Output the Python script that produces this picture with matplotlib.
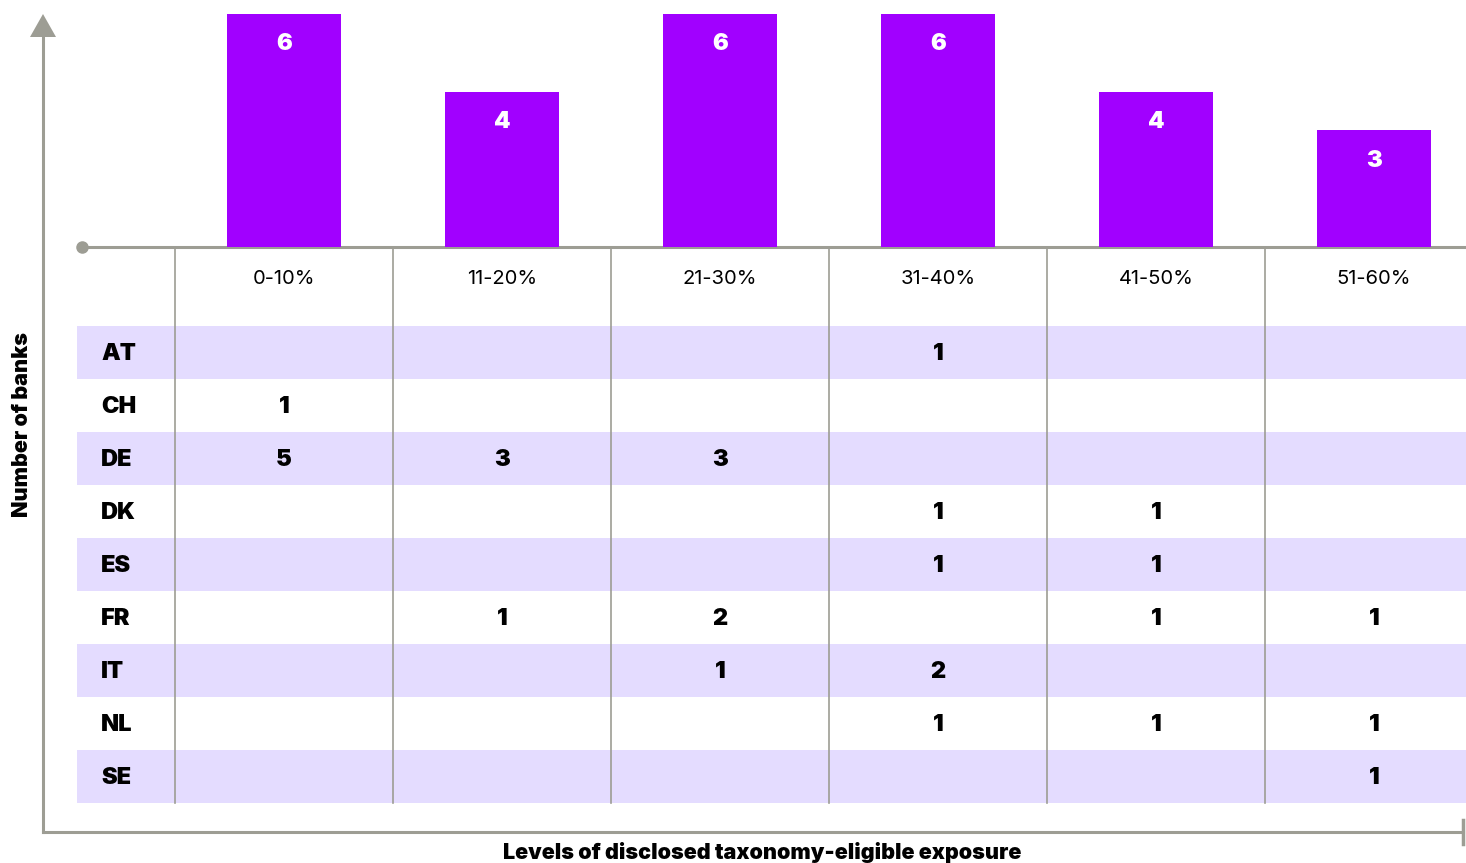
import matplotlib.pyplot as plt
from matplotlib.patches import Rectangle, Polygon

plt.rcParams['font.family'] = ['Inter', 'DejaVu Sans']

# bins of disclosed taxonomy-eligible exposure
levels = ['0-10%', '11-20%', '21-30%', '31-40%', '41-50%', '51-60%']
totals = [6, 4, 6, 6, 4, 3]

countries = ['AT', 'CH', 'DE', 'DK', 'ES', 'FR', 'IT', 'NL', 'SE']
# banks per country and level (0 = empty cell)
counts = [
    [0, 0, 0, 1, 0, 0],
    [1, 0, 0, 0, 0, 0],
    [5, 3, 3, 0, 0, 0],
    [0, 0, 0, 1, 1, 0],
    [0, 0, 0, 1, 1, 0],
    [0, 1, 2, 0, 1, 1],
    [0, 0, 1, 2, 0, 0],
    [0, 0, 0, 1, 1, 1],
    [0, 0, 0, 0, 0, 1],
]

PURPLE = '#a100ff'
LAVENDER = '#e4dcff'
GREY = '#9d9d94'

W, H = 1466, 863
fig = plt.figure(figsize=(W / 100, H / 100), dpi=100)

# pixel-space canvas for the table and the axis arrows
canvas = fig.add_axes([0, 0, 1, 1])
canvas.set_xlim(0, W)
canvas.set_ylim(H, 0)
canvas.axis('off')

col_left = 175
col_w = 218
row_top = 326
row_h = 53

# shaded rows
for r, c in enumerate(countries):
    y0 = row_top + r * row_h
    if r % 2 == 0:
        canvas.add_patch(Rectangle((77, y0), W - 77, row_h, color=LAVENDER, lw=0, zorder=1))
    canvas.text(101, y0 + row_h / 2 + 1, c, ha='left', va='center',
                fontsize=17, fontweight='black', color='black', zorder=3)
    for i, v in enumerate(counts[r]):
        if v:
            canvas.text(col_left + col_w * (i + 0.5), y0 + row_h / 2 + 1, str(v),
                        ha='center', va='center', fontsize=17, fontweight='black', zorder=3)

table_bottom = row_top + len(countries) * row_h

# column separators and header labels
for i, lab in enumerate(levels):
    x = col_left + col_w * i
    canvas.plot([x, x], [247, table_bottom], color=GREY, lw=1.2, zorder=2)
    canvas.text(x + col_w / 2, 279, lab, ha='center', va='center', fontsize=14.5, color='black')

# baseline under the bars
canvas.plot([82, W], [247, 247], color=GREY, lw=2.2, zorder=2, solid_capstyle='butt')
canvas.plot(82, 247, 'o', color=GREY, ms=8, zorder=2)

# outer axis arrows
canvas.plot([43, 43], [34, 832], color=GREY, lw=2.2, zorder=2)
canvas.add_patch(Polygon([[30, 37], [56, 37], [43, 14]], closed=True, color=GREY, lw=0))
canvas.plot([43, 1463], [832, 832], color=GREY, lw=2.2, zorder=2)
canvas.plot([1463, 1463], [820, 844], color=GREY, lw=2.5, zorder=2)

canvas.text(22, 424, 'Number of banks', rotation=90, ha='center', va='center',
            fontsize=15.5, fontweight='black')
canvas.text(762, 852, 'Levels of disclosed taxonomy-eligible exposure', ha='center', va='center',
            fontsize=15.5, fontweight='black')

# bar chart above the table
base_y, top_y = 247, 14
bx = fig.add_axes([col_left / W, (H - base_y) / H, (W - col_left) / W, (base_y - top_y) / H])
bx.set_xlim(-0.5, (W - col_left) / col_w - 0.5)
bx.set_ylim(0, 6)
bx.axis('off')
xs = list(range(len(levels)))
bars = bx.bar(xs, totals, width=114 / col_w, color=PURPLE, zorder=2)
for b, v in zip(bars, totals):
    bx.annotate(str(v), (b.get_x() + b.get_width() / 2, v), xytext=(0, -30),
                textcoords='offset pixels', ha='center', va='center',
                fontsize=17, fontweight='black', color='white')

fig.savefig('out.png', dpi=100)
